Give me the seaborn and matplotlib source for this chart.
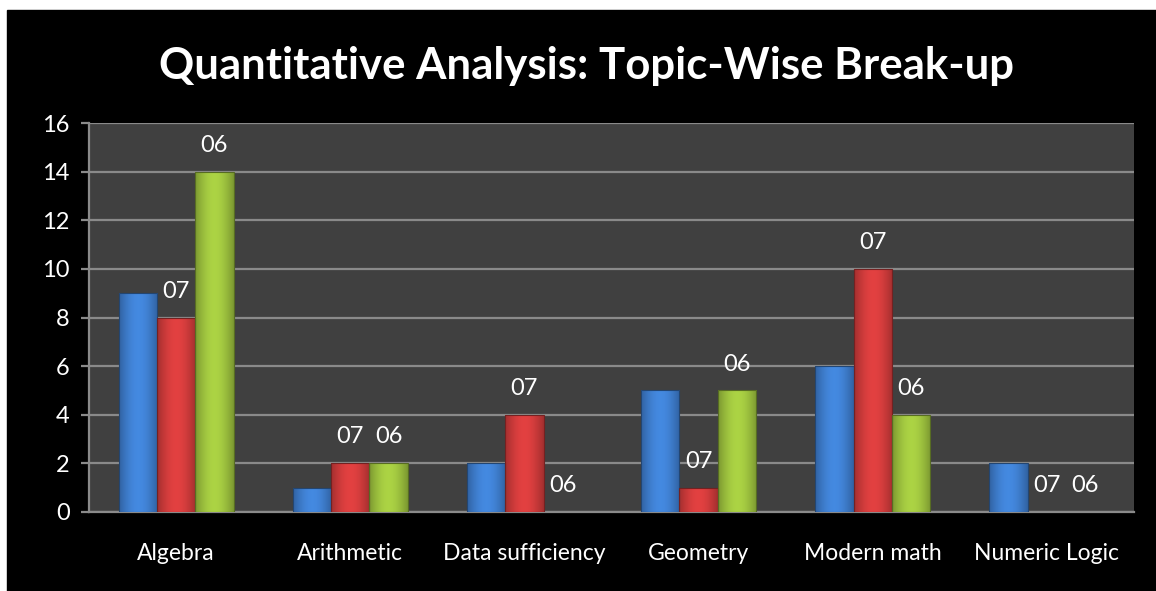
import matplotlib.pyplot as plt
import matplotlib.colors as mcolors
import seaborn as sns
import numpy as np
import pandas as pd

topics = ["Algebra", "Arithmetic", "Data sufficiency", "Geometry", "Modern math", "Numeric Logic"]
series_08 = [9, 1, 2, 5, 6, 2]
series_07 = [8, 2, 4, 1, 10, 0]
series_06 = [14, 2, 0, 5, 4, 0]
series_names = ["08", "07", "06"]
labelled = ["07", "06"]

df = pd.DataFrame({
    "topic": topics * 3,
    "count": series_08 + series_07 + series_06,
    "series": [s for s in series_names for _ in topics],
})

sns.set_style("dark")
plt.rcParams["font.family"] = ["Lato", "DejaVu Sans"]

fig = plt.figure(figsize=(11.56, 5.91), dpi=100, facecolor="white")
# black chart background with thin white strip at top/left
fig.patches.append(plt.Rectangle((7 / 1156, 0), 1, 1 - 10 / 591,
                                 transform=fig.transFigure, color="black", zorder=-10))

ax = fig.add_axes([89 / 1156, 1 - 512 / 591, (1134 - 89) / 1156, (512 - 123) / 591])
ax.set_facecolor("#404040")

palette = {"08": "#3f7fd0", "07": "#d23c3c", "06": "#9fc43f"}
sns.barplot(data=df, x="topic", y="count", hue="series", palette=palette,
            width=0.66, ax=ax, legend=False, saturation=1)

ax.set_ylim(0, 16)
ax.set_yticks(range(0, 17, 2))
ax.set_xlim(-0.5, len(topics) - 0.5)

# gradient fill on each bar
for bar in list(ax.patches):
    h = bar.get_height()
    if h <= 0:
        continue
    base = np.array(mcolors.to_rgb(bar.get_facecolor()))
    x0, w = bar.get_x(), bar.get_width()
    prof = 0.78 + 0.3 * np.sin(np.linspace(0, np.pi, 64))
    img = np.clip(base[None, None, :] * prof[None, :, None], 0, 1)
    im = ax.imshow(img, extent=(x0, x0 + w, 0, h), aspect="auto", zorder=3,
                   interpolation="bilinear")
    im.set_clip_path(bar)
    bar.set_edgecolor(tuple(base * 0.55))
    bar.set_linewidth(0.8)
    bar.set_zorder(4)
    bar.set_facecolor("none")

# value labels (series names) on the red and green series
conts = ax.containers
for cont, name in zip(conts, series_names):
    if name not in labelled:
        continue
    for bar in cont:
        ax.annotate(name, (bar.get_x() + bar.get_width() / 2, bar.get_height()),
                    xytext=(0, 19), textcoords="offset points",
                    ha="center", va="center", color="white", fontsize=17, zorder=5)

ax.set_aspect("auto")
ax.grid(axis="y", color="#8a8a8a", linewidth=1.6, zorder=0)
ax.grid(axis="x", visible=False)
ax.set_axisbelow(True)
for side in ["top", "right"]:
    ax.spines[side].set_visible(False)
for side in ["left", "bottom"]:
    ax.spines[side].set_color("#8a8a8a")
    ax.spines[side].set_linewidth(1.6)

ax.set_xlabel("")
ax.set_ylabel("")
ax.set_xticks(np.arange(len(topics)))
ax.set_xticklabels(topics)
ax.set_xticks(np.arange(-0.5, len(topics), 1), minor=True)
ax.tick_params(axis="x", which="major", length=0, pad=22, labelsize=16.5, labelcolor="white")
ax.tick_params(axis="x", which="minor", length=6, width=1.6, color="#8a8a8a", direction="out")
ax.tick_params(axis="y", length=6, width=1.6, color="#8a8a8a", pad=8, labelsize=17,
               labelcolor="white", left=True, direction="out")

fig.text(0.507, 0.888, "Quantitative Analysis: Topic-Wise Break-up", ha="center", va="center",
         color="white", fontsize=31.5, fontweight="bold")

fig.savefig("out.png", dpi=100, facecolor=fig.get_facecolor())
